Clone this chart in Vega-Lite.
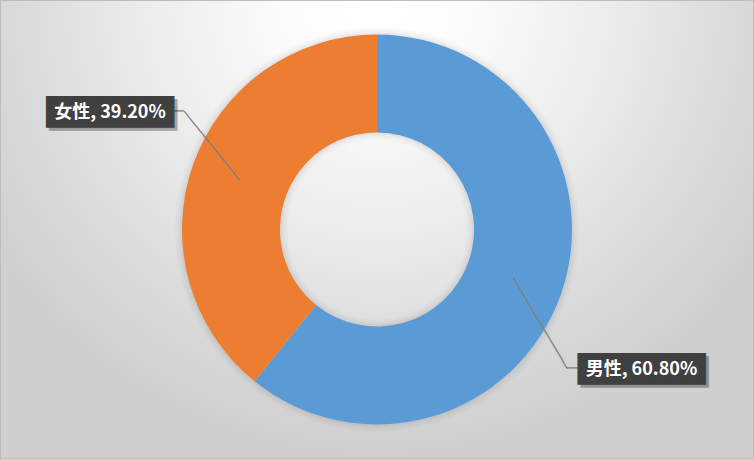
{
  "$schema": "https://vega.github.io/schema/vega-lite/v6.json",
  "width": 754,
  "height": 459,
  "autosize": {"type": "fit", "contains": "padding"},
  "padding": 0,
  "background": "#d0d0d0",
  "view": {
    "stroke": "#bcbcbc",
    "strokeWidth": 2,
    "fill": {
      "gradient": "radial",
      "x1": 0.5, "y1": 0.196, "r1": 0,
      "x2": 0.5, "y2": 0.196, "r2": 0.6,
      "stops": [
        {"offset": 0, "color": "#ffffff"},
        {"offset": 0.2, "color": "#fcfcfc"},
        {"offset": 0.39, "color": "#f2f2f2"},
        {"offset": 0.51, "color": "#ececec"},
        {"offset": 0.83, "color": "#d8d8d8"},
        {"offset": 0.97, "color": "#d1d1d1"},
        {"offset": 1, "color": "#cfcfcf"}
      ]
    }
  },
  "data": {
    "values": [
      {"gender": "男性", "pct": 60.8, "label": "男性, 60.80%"},
      {"gender": "女性", "pct": 39.2, "label": "女性, 39.20%"}
    ]
  },
  "encoding": {
    "theta": {"field": "pct", "type": "quantitative", "stack": true},
    "order": {"field": "pct", "sort": "descending"}
  },
  "layer": [
    {"mark": {"type": "arc", "outerRadius": 202, "innerRadius": 90, "color": "#000000", "opacity": 0.02}},
    {"mark": {"type": "arc", "outerRadius": 199.5, "innerRadius": 92.5, "color": "#000000", "opacity": 0.025}},
    {"mark": {"type": "arc", "outerRadius": 197, "innerRadius": 95, "color": "#000000", "opacity": 0.035}},
    {
      "mark": {"type": "arc", "outerRadius": 195, "innerRadius": 97},
      "encoding": {
        "color": {"field": "gender", "type": "nominal", "scale": {"domain": ["男性", "女性"], "range": ["#5B9BD5", "#ED7D31"]}, "legend": null}
      }
    },
    {
      "mark": {"type": "text", "text": "──────────", "font": "DejaVu Sans Mono", "fontSize": 14.6, "color": "#7f7f7f", "radius": 185.6, "thetaOffset": 0.1304, "angle": 51.44, "align": "center", "baseline": "middle", "dy": 1},
      "encoding": {"opacity": {"condition": {"test": "datum.gender === '女性'", "value": 1}, "value": 0}}
    },
    {
      "mark": {"type": "text", "text": "──", "font": "DejaVu Sans Mono", "fontSize": 14.6, "color": "#7f7f7f", "radius": 234.1, "thetaOffset": 0.1899, "align": "center", "baseline": "middle", "dy": 1},
      "encoding": {"opacity": {"condition": {"test": "datum.gender === '女性'", "value": 1}, "value": 0}}
    },
    {
      "mark": {"type": "text", "text": "────────────", "font": "DejaVu Sans Mono", "fontSize": 14.6, "color": "#7f7f7f", "radius": 188.2, "thetaOffset": 0.1808, "angle": 59.4, "align": "center", "baseline": "middle", "dy": 1},
      "encoding": {"opacity": {"condition": {"test": "datum.gender === '男性'", "value": 1}, "value": 0}}
    },
    {
      "mark": {"type": "text", "text": "──", "font": "DejaVu Sans Mono", "fontSize": 14.6, "color": "#7f7f7f", "radius": 242.3, "thetaOffset": 0.2693, "align": "center", "baseline": "middle", "dy": 1},
      "encoding": {"opacity": {"condition": {"test": "datum.gender === '男性'", "value": 1}, "value": 0}}
    },
    {
      "mark": {"type": "text", "text": "████████", "font": "DejaVu Sans Mono", "fontSize": 26.6, "color": "#000000", "radius": 291.9, "thetaOffset": 0.0768, "align": "center", "baseline": "middle", "dx": 3, "dy": 4},
      "encoding": {"opacity": {"condition": {"test": "datum.gender === '女性'", "value": 0.3}, "value": 0}}
    },
    {
      "mark": {"type": "text", "text": "████████", "font": "DejaVu Sans Mono", "fontSize": 26.6, "color": "#000000", "radius": 299.0, "thetaOffset": 0.1461, "align": "center", "baseline": "middle", "dx": 3, "dy": 4},
      "encoding": {"opacity": {"condition": {"test": "datum.gender === '男性'", "value": 0.3}, "value": 0}}
    },
    {
      "mark": {"type": "text", "text": "████████", "font": "DejaVu Sans Mono", "fontSize": 26.6, "color": "#404040", "radius": 291.9, "thetaOffset": 0.0768, "align": "center", "baseline": "middle", "dy": 1},
      "encoding": {"opacity": {"condition": {"test": "datum.gender === '女性'", "value": 1}, "value": 0}}
    },
    {
      "mark": {"type": "text", "text": "████████", "font": "DejaVu Sans Mono", "fontSize": 26.6, "color": "#404040", "radius": 299.0, "thetaOffset": 0.1461, "align": "center", "baseline": "middle", "dy": 1},
      "encoding": {"opacity": {"condition": {"test": "datum.gender === '男性'", "value": 1}, "value": 0}}
    },
    {
      "mark": {"type": "text", "font": "Noto Sans CJK JP", "fontSize": 18, "fontWeight": "bold", "color": "#ffffff", "radius": 291.9, "thetaOffset": 0.0768, "align": "center", "baseline": "middle", "dy": 1},
      "encoding": {
        "text": {"field": "label"},
        "opacity": {"condition": {"test": "datum.gender === '女性'", "value": 1}, "value": 0}
      }
    },
    {
      "mark": {"type": "text", "font": "Noto Sans CJK JP", "fontSize": 18, "fontWeight": "bold", "color": "#ffffff", "radius": 299.0, "thetaOffset": 0.1461, "align": "center", "baseline": "middle", "dy": 1},
      "encoding": {
        "text": {"field": "label"},
        "opacity": {"condition": {"test": "datum.gender === '男性'", "value": 1}, "value": 0}
      }
    }
  ]
}
